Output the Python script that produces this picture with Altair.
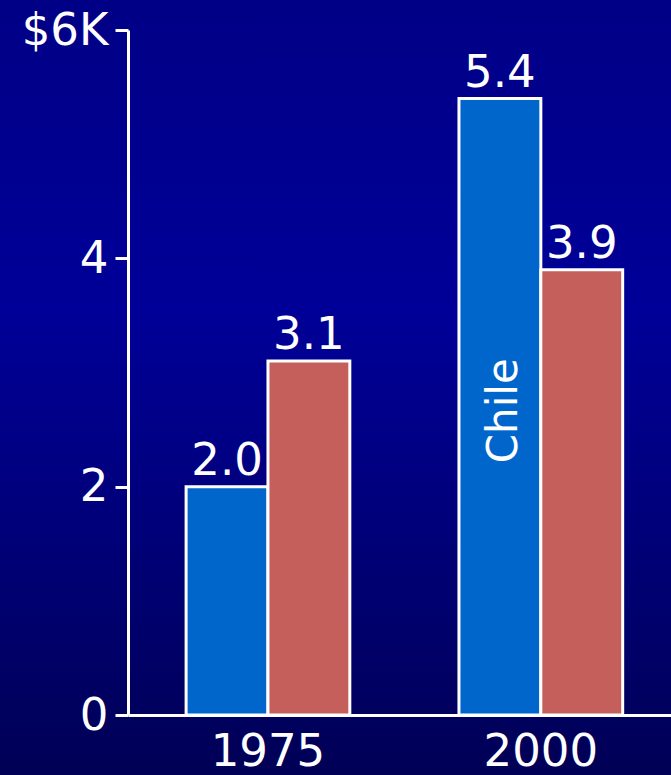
import altair as alt
import pandas as pd

# GDP per capita, thousands of dollars
years = ["1975", "2000"]
series = ["Chile", "Region"]
chile_values = [2.0, 5.4]
region_values = [3.1, 3.9]

rows = []
for i, yr in enumerate(years):
    rows.append({"year": yr, "series": series[0], "value": chile_values[i]})
    rows.append({"year": yr, "series": series[1], "value": region_values[i]})
df = pd.DataFrame(rows)

FONT = "DejaVu Sans"
FS = 45
W, H = 543, 685

x_enc = alt.X(
    "year:N",
    sort=years,
    scale=alt.Scale(paddingInner=0.4, paddingOuter=0.195, align=0.546),
    axis=alt.Axis(
        title=None, labelAngle=0, ticks=False, labelPadding=14, zindex=2,
        domainColor="white", domainWidth=3,
        labelColor="white", labelFont=FONT, labelFontSize=FS,
    ),
)
xoff = alt.XOffset("series:N", sort=series, scale=alt.Scale(paddingInner=0, paddingOuter=0))
y_scale = alt.Scale(domain=[0, 6], nice=False)

background = alt.Chart(df).mark_rect(
    color=alt.LinearGradient(
        gradient="linear", x1=0, y1=0, x2=0, y2=1,
        stops=[
            alt.GradientStop(color="#000086", offset=0),
            alt.GradientStop(color="#000098", offset=0.4),
            alt.GradientStop(color="#000056", offset=1),
        ],
    )
).encode(
    x=alt.value(-128), x2=alt.value(W),
    y=alt.value(-30), y2=alt.value(H + 60),
)

bars = alt.Chart(df).mark_bar(stroke="white", strokeWidth=3, opacity=1).encode(
    x=x_enc,
    xOffset=xoff,
    y=alt.Y(
        "value:Q",
        scale=y_scale,
        axis=alt.Axis(
            title=None, values=[0, 2, 4, 6], grid=False, zindex=2,
            labelExpr="datum.value == 6 ? '$6K' : format(datum.value, 'd')",
            domainColor="white", domainWidth=3,
            tickColor="white", tickWidth=3, tickSize=13,
            labelColor="white", labelFont=FONT, labelFontSize=FS, labelPadding=7,
        ),
    ),
    color=alt.Color(
        "series:N",
        scale=alt.Scale(domain=series, range=["#0066CC", "#C55F5C"]),
        legend=None,
    ),
)

labels = alt.Chart(df).mark_text(
    font=FONT, fontSize=FS, color="white", baseline="alphabetic", dy=-12
).encode(
    x=alt.X("year:N", sort=years),
    xOffset=alt.XOffset("series:N", sort=series),
    y=alt.Y("value:Q", scale=y_scale),
    text=alt.Text("value:Q", format=".1f"),
)

# series name written upright inside the tall 2000 bar, at half its height
name_label = alt.Chart(df).transform_filter(
    (alt.datum.series == "Chile") & (alt.datum.year == "2000")
).transform_calculate(mid="datum.value / 2").mark_text(
    font=FONT, fontSize=42, color="white", angle=270, baseline="middle", align="center",
    dx=-4, dy=4,
).encode(
    x=alt.X("year:N", sort=years),
    xOffset=alt.XOffset("series:N", sort=series),
    y=alt.Y("mid:Q", scale=y_scale),
    text=alt.Text("series:N"),
)

chart = alt.layer(background, bars, labels, name_label).properties(
    width=W, height=H,
    autosize=alt.AutoSizeParams(type="none"),
    padding={"left": 128, "top": 30, "right": 0, "bottom": 60},
    background="#000070",
).configure_view(stroke=None)

chart.save("out.html", embed_options={"renderer": "svg", "actions": False})
